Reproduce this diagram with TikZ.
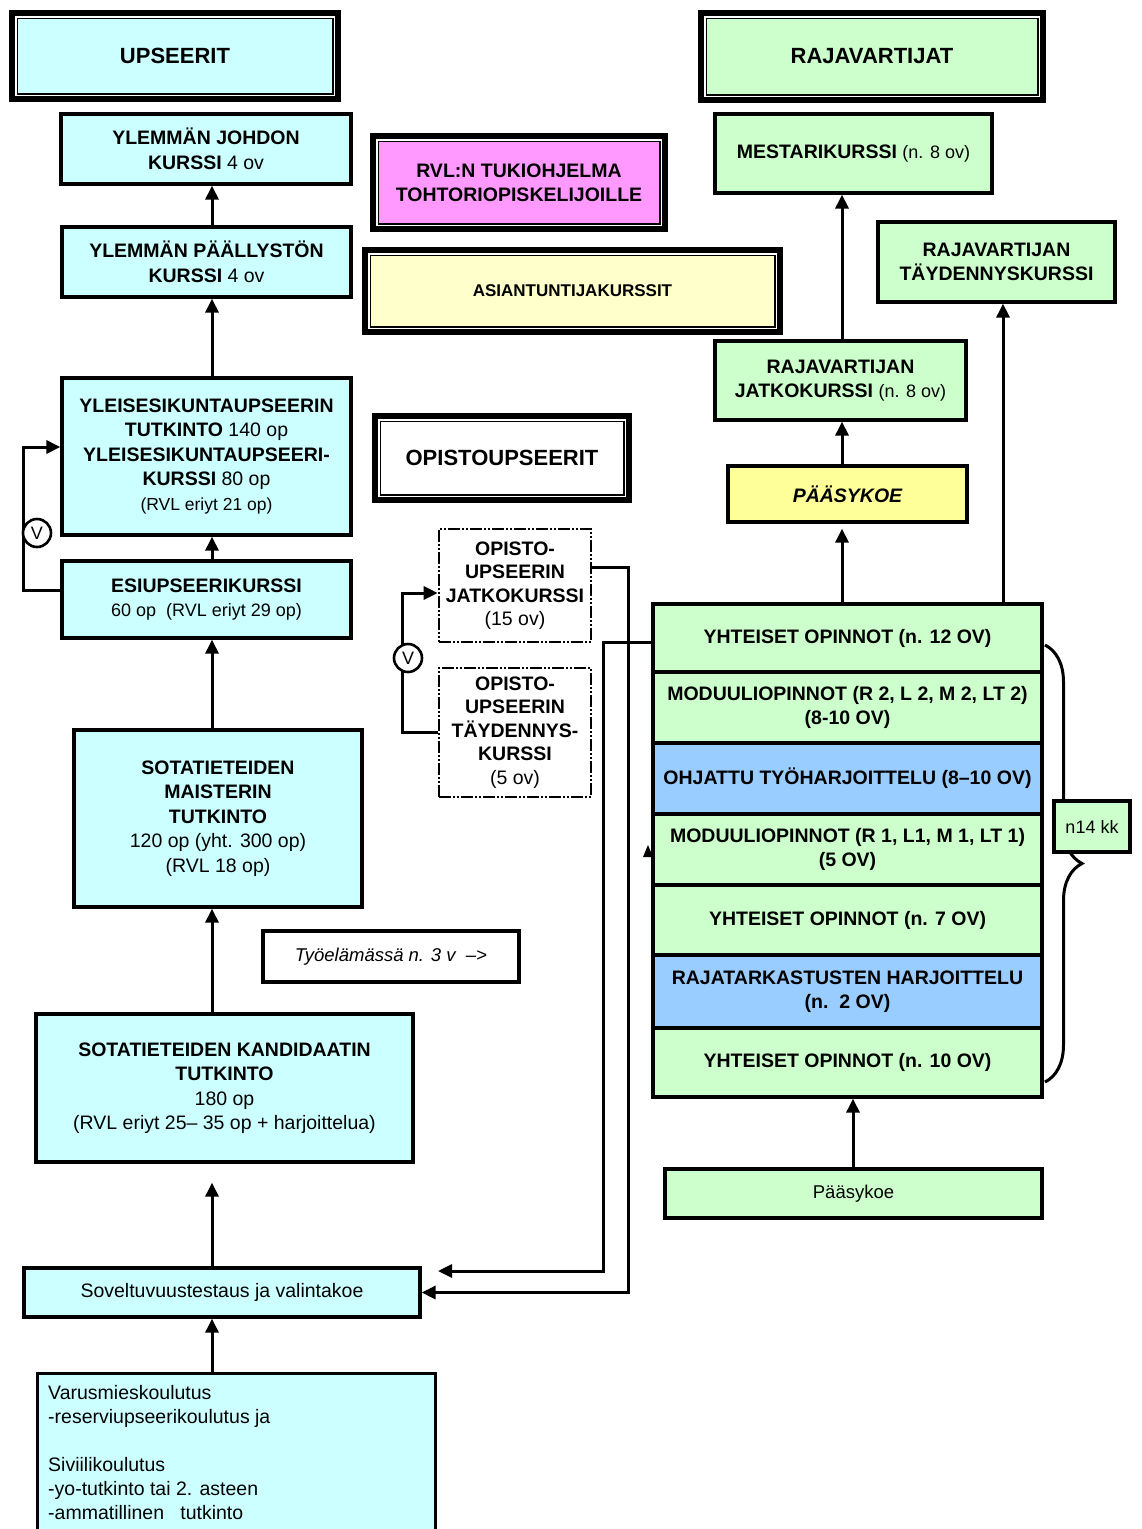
\documentclass[tikz,border=0pt]{standalone}
\usepackage{fontspec}
\setmainfont{Liberation Sans}
\usetikzlibrary{arrows.meta,calc,decorations.pathreplacing}
\definecolor{cyanbox}{HTML}{CCFFFF}
\definecolor{greenbox}{HTML}{CCFFCC}
\definecolor{bluebox}{HTML}{99CCFF}
\definecolor{yellowbox}{HTML}{FFFF99}
\definecolor{creambox}{HTML}{FFFFCC}
\definecolor{pinkbox}{HTML}{FF99FF}
% box by its corners: style, name, x1, y1, x2, y2, text
\newcommand\cell[7]{\node[#1, minimum width={(#5)-(#3)}, minimum height={(#6)-(#4)}]
  (#2) at ({((#3)+(#5))/2},{((#4)+(#6))/2}) {#7};}
% thin inner line of a thick-thin frame (insets measured from the outer edge)
\newcommand\dframe[1]{%
  \draw[white,line width=1.5pt] ($(#1.north west)+(6.75,6.75)$) rectangle ($(#1.south east)+(-6.75,-6.75)$);
  \draw[line width=1.5pt] ($(#1.north west)+(8.25,8.25)$) rectangle ($(#1.south east)+(-8.25,-8.25)$);}
\begin{document}
\begin{tikzpicture}[x=1pt,y=-1pt,
  every node/.style={align=center,inner sep=1pt},
  boxbase/.style={draw,line width=3.2pt,font=\fontsize{19.5}{24.5}\selectfont},
  cyanc/.style={boxbase,fill=cyanbox},
  greenc/.style={boxbase,fill=greenbox},
  bluec/.style={boxbase,fill=bluebox},
  stackc/.style={boxbase,font=\fontsize{19.5}{24.5}\selectfont\bfseries},
  header/.style={draw,line width=6pt,font=\fontsize{22}{26}\selectfont\bfseries},
  dashbox/.style={draw,line width=2.6pt,fill=white,
    dash pattern=on 12pt off 2pt on 2pt off 2pt on 2pt off 2pt,
    font=\fontsize{19.5}{23.5}\selectfont},
  arr/.style={line width=3pt,-{Triangle[length=14pt,width=13pt]}},
  vmark/.style={circle,draw,line width=2.6pt,fill=white,minimum size=28pt,
    inner sep=0pt,font=\fontsize{18}{18}\selectfont},
]
\useasboundingbox (0,0) rectangle (1141,1529);
\fill[white] (0,0) rectangle (1141,1529);
\clip (0,0) rectangle (1141,1529);

\coordinate (xl) at (212,0);
\coordinate (lv) at (23,0);
\coordinate (mv) at (402,0);
\coordinate (ra) at (628,0);
\coordinate (rb) at (603,0);
\coordinate (tipb) at (438,1271);
\coordinate (xr) at (842,0);
\coordinate (xt) at (1003,0);
\coordinate (xp) at (853,0);

% ---------------- left column: officers
\cell{header,fill=cyanbox}{ups}{12}{13}{338}{99}{UPSEERIT}
\cell{cyanc}{ylj}{61}{114}{351}{184}{\textbf{YLEMMÄN JOHDON}\\\textbf{KURSSI} 4 ov}
\cell{cyanc}{ylp}{62}{227}{351}{297}{\textbf{YLEMMÄN PÄÄLLYSTÖN}\\\textbf{KURSSI} 4 ov}
\cell{cyanc}{yle}{62}{378}{351}{535}{\textbf{YLEISESIKUNTAUPSEERIN}\\\textbf{TUTKINTO} 140 op\\\textbf{YLEISESIKUNTAUPSEERI-}\\\textbf{KURSSI} 80 op\\{\fontsize{17.5}{24.5}\selectfont (RVL eriyt 21 op)}}
\cell{cyanc}{esi}{62}{561}{351}{638}{\textbf{ESIUPSEERIKURSSI}\\{\fontsize{18}{24.5}\selectfont 60 op\ \ (RVL eriyt 29 op)}}
\cell{cyanc}{mai}{74}{730}{362}{907}{\textbf{SOTATIETEIDEN}\\\textbf{MAISTERIN}\\\textbf{TUTKINTO}\\120 op (yht. 300 op)\\(RVL 18 op)}
\cell{boxbase,fill=white,font=\fontsize{18.5}{22}\selectfont\itshape}{tyo}{263}{931}{519}{982}{Työelämässä n. 3 v\ \ –>}
\cell{cyanc}{kan}{36}{1014}{413}{1162}{\textbf{SOTATIETEIDEN KANDIDAATIN}\\\textbf{TUTKINTO}\\180 op\\(RVL eriyt 25– 35 op + harjoittelua)}
\cell{cyanc}{sov}{24}{1268}{420}{1317}{Soveltuvuustestaus ja valintakoe}
\node[cyanc,anchor=north west,minimum width=398,minimum height=200] (var) at (36,1372) {};
\node[anchor=north west,align=left,inner sep=0pt,font=\fontsize{19.5}{24}\selectfont] (vartxt) at (48,1385)
  {Varusmieskoulutus\\-reserviupseerikoulutus ja\\[24pt]Siviilikoulutus\\-yo-tutkinto tai 2. asteen\\-ammatillinen\ \ \ tutkinto};

\draw[arr] (ylp.north -| xl) -- (ylj.south -| xl);
\draw[arr] (yle.north -| xl) -- (ylp.south -| xl);
\draw[arr] (esi.north -| xl) -- (yle.south -| xl);
\draw[arr] (mai.north -| xl) -- (esi.south -| xl);
\draw[arr] (kan.north -| xl) -- (mai.south -| xl);
\draw[arr] (sov.north -| xl) -- ($(kan.south -| xl)+(0,19)$);
\draw[arr] (var.north -| xl) -- (sov.south -| xl);

% choice loop beside the officer courses
\draw[arr] ([yshift=9.5pt]esi.west) -- ([yshift=9.5pt]esi.west -| lv) |- ([yshift=9.5pt]yle.west);
\node[vmark] (v1) at (37,533) {V};

% ---------------- middle
\cell{header,fill=pinkbox,font=\fontsize{19.5}{24}\selectfont\bfseries}{rvl}{373}{136}{665}{229}{RVL:N TUKIOHJELMA\\TOHTORIOPISKELIJOILLE}
\cell{header,fill=creambox,font=\fontsize{17}{20}\selectfont\bfseries}{asi}{365}{250}{780}{332}{ASIANTUNTIJAKURSSIT}
\cell{header,fill=white}{opi}{375}{416}{629}{500}{OPISTOUPSEERIT}
\cell{dashbox}{jat}{439}{529}{591}{642}{\textbf{OPISTO-}\\\textbf{UPSEERIN}\\\textbf{JATKOKURSSI}\\(15 ov)}
\cell{dashbox}{tay}{439}{668}{591}{797}{\textbf{OPISTO-}\\\textbf{UPSEERIN}\\\textbf{TÄYDENNYS-}\\\textbf{KURSSI}\\(5 ov)}

\draw[arr] (tay.west) -- (tay.west -| mv) |- ([yshift=-7.5pt]jat.west);
\node[vmark] (v2) at (408,658) {V};

% ---------------- right column: border guards
\cell{header,fill=greenbox}{raj}{701}{13}{1043}{100}{RAJAVARTIJAT}
\cell{greenc}{mes}{715}{114}{992}{193}{\textbf{MESTARIKURSSI} {\fontsize{18}{22}\selectfont(n. 8 ov)}}
\cell{greenc}{rtd}{878}{222}{1115}{302}{\textbf{RAJAVARTIJAN}\\\textbf{TÄYDENNYSKURSSI}}
\cell{greenc}{rjk}{715}{341}{966}{420}{\textbf{RAJAVARTIJAN}\\\textbf{JATKOKURSSI} {\fontsize{18}{22}\selectfont(n. 8 ov)}}
\cell{boxbase,fill=yellowbox,font=\fontsize{19.5}{24}\selectfont\bfseries\itshape}{pas}{728}{466}{967}{522}{PÄÄSYKOE}

\fill (643,857) -- (648,845) -- (653,857) -- cycle;

\cell{stackc,fill=greenbox}{s1}{653}{604}{1042}{672}{YHTEISET OPINNOT (n. 12 OV)}
\cell{stackc,fill=greenbox}{s2}{653}{672}{1042}{743}{MODUULIOPINNOT (R 2, L 2, M 2, LT 2)\\(8-10 OV)}
\cell{stackc,fill=bluebox}{s3}{653}{743}{1042}{814}{OHJATTU TYÖHARJOITTELU (8–10 OV)}
\cell{stackc,fill=greenbox}{s4}{653}{814}{1042}{885}{MODUULIOPINNOT (R 1, L1, M 1, LT 1)\\(5 OV)}
\cell{stackc,fill=greenbox}{s5}{653}{885}{1042}{955}{YHTEISET OPINNOT (n. 7 OV)}
\cell{stackc,fill=bluebox}{s6}{653}{955}{1042}{1028}{RAJATARKASTUSTEN HARJOITTELU\\(n.\ \ 2 OV)}
\cell{stackc,fill=greenbox}{s7}{653}{1028}{1042}{1097}{YHTEISET OPINNOT (n. 10 OV)}
\cell{greenc,font=\fontsize{18.5}{22}\selectfont}{pk}{665}{1169}{1042}{1218}{Pääsykoe}

\draw[line width=3pt,decorate,decoration={brace,amplitude=37pt}] (1045,645) -- (1045,1082);
\cell{greenc,font=\fontsize{18}{20}\selectfont}{n14}{1054}{801}{1130}{852}{n14 kk}

\draw[arr] (rjk.north -| xr) -- (mes.south -| xr);
\draw[arr] (pas.north -| xr) -- (rjk.south -| xr);
\draw[arr] (s1.north -| xr) -- ($(pas.south -| xr)+(0,5)$);
\draw[arr] (s1.north -| xt) -- (rtd.south -| xt);
\draw[arr] (pk.north -| xp) -- (s7.south -| xp);

% routes back to the entrance test
\draw[arr] ([yshift=18.5pt]jat.east) -- ([yshift=18.5pt]jat.east -| ra) |- (sov.east);
\draw[arr] ([yshift=-4.5pt]s1.west) -- ([yshift=-4.5pt]s1.west -| rb) |- (tipb);

% thin inner lines of the heading frames
\dframe{ups}
\dframe{raj}
\dframe{rvl}
\dframe{asi}
\dframe{opi}
\end{tikzpicture}
\end{document}
